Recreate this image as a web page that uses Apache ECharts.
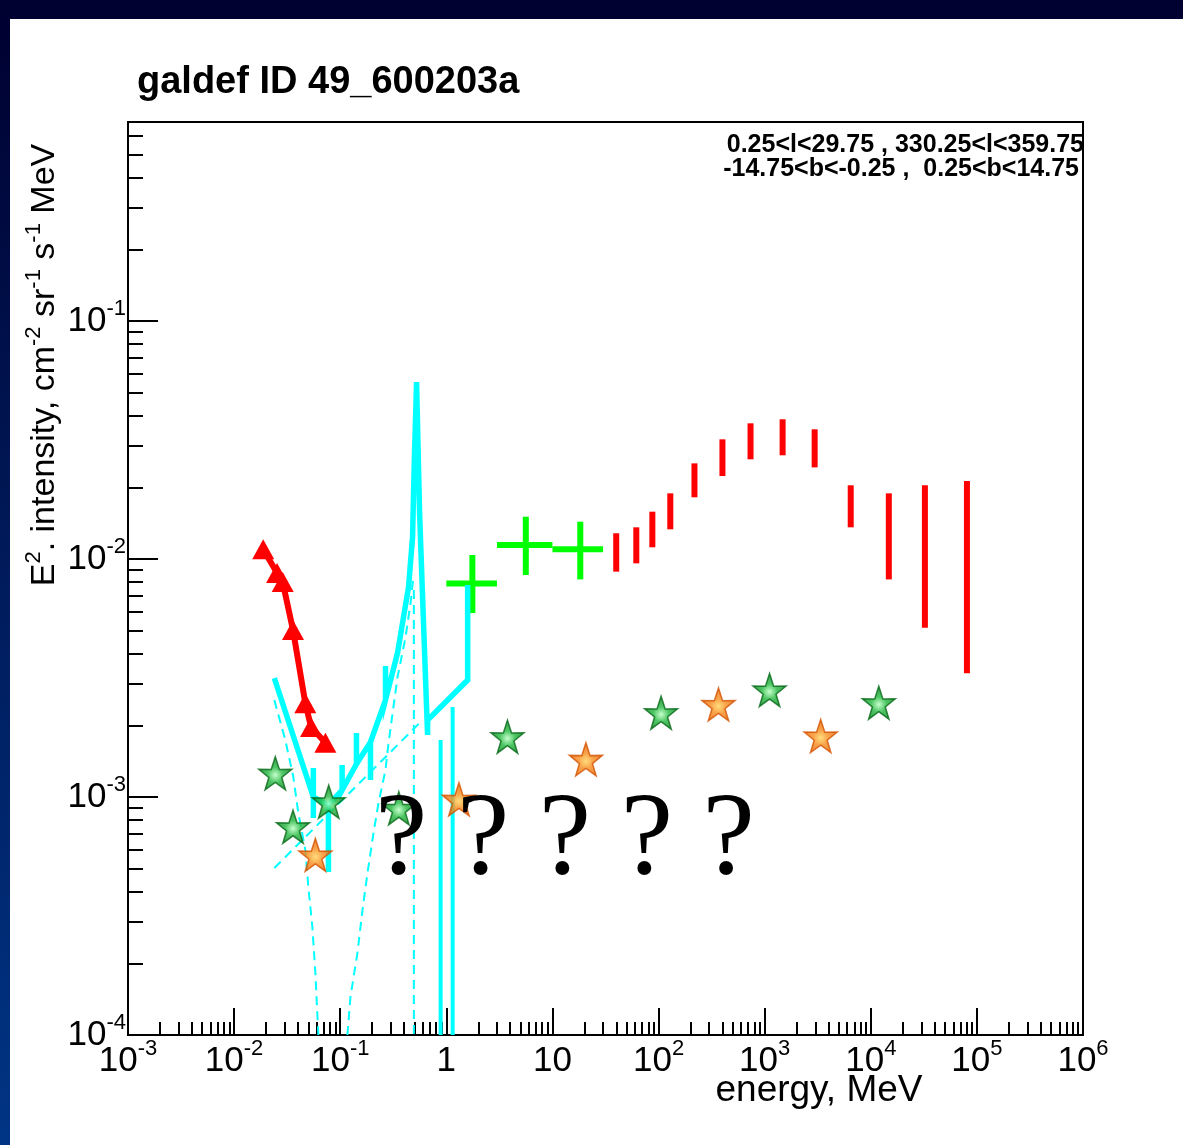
<!DOCTYPE html>
<html>
<head>
<meta charset="utf-8">
<title>galdef ID 49_600203a</title>
<script src="https://cdn.jsdelivr.net/npm/echarts@6/dist/echarts.min.js"></script>
<style>
  html, body { margin: 0; padding: 0; background: #fff; }
  #chart { width: 1183px; height: 1145px; }
</style>
</head>
<body>
<div id="chart"></div>
<script>
// ---------------- data (energy in MeV, E^2 intensity in cm^-2 sr^-1 s^-1 MeV) ----------------

// low-energy measurements (red triangles joined by a line)
const triE = [0.0188, 0.0254, 0.0287, 0.0359, 0.0469, 0.0531, 0.0725];
const triI = [0.0110, 0.00874, 0.0080, 0.00503, 0.00248, 0.00197, 0.00169];

// COMPTEL bins (green crosses: energy bin and intensity range)
const crossE    = [1.76, 5.61, 18.3];
const crossEmin = [1.0, 3.0, 10.0];
const crossEmax = [3.0, 10.0, 30.0];
const crossI    = [0.0079, 0.01145, 0.0110];
const crossIlo  = [0.00593, 0.00857, 0.00821];
const crossIhi  = [0.0104, 0.01506, 0.01435];

// EGRET ranges (red vertical bars)
const egretE  = [39.9, 61.7, 87.4, 129, 218, 400, 736, 1476, 2958, 6471, 14790, 32360, 80590];
const egretLo = [0.00885, 0.00959, 0.0112, 0.01333, 0.01817, 0.02232, 0.02624, 0.02728, 0.02427, 0.01359, 0.00821, 0.00514, 0.00331];
const egretHi = [0.01283, 0.01359, 0.01581, 0.01888, 0.02523, 0.03184, 0.03717, 0.03865, 0.03508, 0.02041, 0.01888, 0.02041, 0.02128];

// model total (solid cyan), with its narrow line features
const totalE = [0.02393, 0.05582, 0.05582, 0.05582, 0.05582, 0.0774, 0.0774, 0.0774, 0.1042, 0.1042, 0.1042,
                0.1422, 0.1422, 0.1422, 0.1929, 0.1929, 0.1929, 0.2672, 0.2672, 0.2672, 0.3468, 0.4406,
                0.4806, 0.4966, 0.5242, 0.5596, 0.5973, 0.6375, 0.6659, 0.6659, 1.589, 1.589];
const totalI = [0.003162, 0.001, 0.001323, 0.000816, 0.001, 0.000926, 0.000484, 0.000926, 0.00107, 0.001363, 0.00107,
                0.001376, 0.001857, 0.001376, 0.001702, 0.001179, 0.001702, 0.002556, 0.003551, 0.002556, 0.004027, 0.007627,
                0.01237, 0.02365, 0.05541, 0.01561, 0.006923, 0.003101, 0.001822, 0.002106, 0.003101, 0.00777];

// solid cyan drops towards zero
const dropE   = [0.8835, 1.147];
const dropTop = [0.001736, 0.00239];
const dropBottom = [0.0001, 0.0001];

// model components (dashed cyan)
const compAE = [0.02393, 0.03038, 0.03614, 0.04029, 0.04692, 0.05008, 0.05464, 0.05832, 0.06225];
const compAI = [0.002556, 0.001736, 0.001213, 0.000857, 0.000599, 0.000419, 0.000284, 0.000182, 0.0001];
const compBE = [0.02393, 0.1248, 0.5973];
const compBI = [0.000503, 0.00105, 0.002106];
const compCE = [0.4943, 0.4943];
const compCI = [0.00741, 0.0001];
const compDE = [0.1169, 0.1248, 0.1453, 0.1621, 0.1807, 0.2058, 0.2295, 0.2672, 0.2852, 0.3468, 0.4128, 0.4602, 0.4912];
const compDI = [0.0001, 0.0001444, 0.000221, 0.000335, 0.000479, 0.000706, 0.000944, 0.001299, 0.001686, 0.003193, 0.0047, 0.006533, 0.00857];

// star markers
const greenStarE  = [0.02444, 0.0359, 0.0779, 0.3568, 3.767, 105.6, 1112, 11900];
const greenStarI  = [0.001258, 0.00075, 0.000955, 0.000897, 0.001792, 0.002261, 0.002816, 0.00249];
const orangeStarE = [0.05832, 1.315, 20.67, 367, 3372];
const orangeStarI = [0.000571, 0.000978, 0.00144, 0.00245, 0.001804];

// axis ticks and labels
const xMajor = [1e-3, 1e-2, 1e-1, 1, 10, 100, 1e3, 1e4, 1e5, 1e6];
const xTickLabels = ['10^{-3}', '10^{-2}', '10^{-1}', '1', '10', '10^{2}', '10^{3}', '10^{4}', '10^{5}', '10^{6}'];
const yMajor = [1e-4, 1e-3, 1e-2, 1e-1];
const yTickLabels = ['10^{-4}', '10^{-3}', '10^{-2}', '10^{-1}'];

// ---------------- helpers ----------------
const SANS = "'Liberation Sans', Arial, Helvetica, sans-serif";

function minorTicks(lo, hi) {
  const out = [];
  for (let d = lo; d <= hi; d *= 10) {
    for (let k = 2; k <= 9; k++) {
      const v = k * d;
      if (v < hi * 10) out.push(v);
    }
  }
  return out;
}
const xMinor = minorTicks(1e-3, 1e5);
const yMinor = minorTicks(1e-4, 1e-1).filter(v => v < 0.686);

function toRich(label) {
  const m = /^(.*)\^\{(.*)\}$/.exec(label);
  return m ? '{n|' + m[1] + '}{s|' + m[2] + '}' : '{n|' + label + '}';
}
function labelFor(values, labels) {
  return function (val) {
    const i = values.findIndex(v => Math.abs(v - val) <= v * 1e-6);
    return i < 0 ? '' : toRich(labels[i]);
  };
}
const tickRich = {
  n: { fontFamily: SANS, fontSize: 35, lineHeight: 47, color: '#000' },
  s: { fontFamily: SANS, fontSize: 22, lineHeight: 22, verticalAlign: 'top', color: '#000' }
};

function pairs(xs, ys) { return xs.map((x, i) => [x, ys[i]]); }

const STAR = 'path://M50,0 L61.8,35.1 L97.6,34.5 L68.7,56.9 L79.4,90.5 L50,70 L20.6,90.5 L31.3,56.9 L2.4,34.5 L38.2,35.1 Z';
function starGradient(inner, mid, outer) {
  return { type: 'radial', x: 0.5, y: 0.55, r: 0.55,
           colorStops: [{ offset: 0, color: inner }, { offset: 0.4, color: mid }, { offset: 1, color: outer }] };
}

// ---------------- chart ----------------
const chart = echarts.init(document.getElementById('chart'), null, { renderer: 'canvas' });

const axisBase = { type: 'log', logBase: 10, splitLine: { show: false }, minorTick: { show: false } };

const series = [];

// EGRET bars
series.push({
  type: 'custom', name: 'EGRET', z: 2,
  data: egretE.map((e, i) => [e, egretLo[i], egretHi[i]]),
  encode: { x: 0, y: [1, 2] },
  renderItem(params, api) {
    const a = api.coord([api.value(0), api.value(1)]);
    const b = api.coord([api.value(0), api.value(2)]);
    return { type: 'line', shape: { x1: a[0], y1: a[1], x2: b[0], y2: b[1] },
             style: { stroke: '#ff0000', lineWidth: 6 } };
  }
});

// COMPTEL crosses
series.push({
  type: 'custom', name: 'COMPTEL', z: 2,
  data: crossE.map((e, i) => [e, crossEmin[i], crossEmax[i], crossI[i], crossIlo[i], crossIhi[i]]),
  encode: { x: [0, 1, 2], y: [3, 4, 5] },
  renderItem(params, api) {
    const h1 = api.coord([api.value(1), api.value(3)]);
    const h2 = api.coord([api.value(2), api.value(3)]);
    const v1 = api.coord([api.value(0), api.value(4)]);
    const v2 = api.coord([api.value(0), api.value(5)]);
    const st = { stroke: '#00ff00', lineWidth: 6 };
    return { type: 'group', children: [
      { type: 'line', shape: { x1: h1[0], y1: h1[1], x2: h2[0], y2: h2[1] }, style: st },
      { type: 'line', shape: { x1: v1[0], y1: v1[1], x2: v2[0], y2: v2[1] }, style: st }
    ] };
  }
});

// dashed model components
[[compAE, compAI], [compBE, compBI], [compCE, compCI], [compDE, compDI]].forEach(([xs, ys], k) => {
  series.push({
    type: 'line', name: 'component ' + (k + 1), z: 3, showSymbol: false, symbol: 'none',
    data: pairs(xs, ys),
    lineStyle: { color: '#00ffff', width: 2, type: [9, 6] }
  });
});

// solid model total
series.push({
  type: 'line', name: 'total', z: 4, showSymbol: false, symbol: 'none',
  data: pairs(totalE, totalI),
  lineStyle: { color: '#00ffff', width: 5.5, join: 'miter' }
});
dropE.forEach((e, i) => {
  series.push({
    type: 'line', name: 'total drop ' + (i + 1), z: 4, showSymbol: false, symbol: 'none',
    data: [[e, dropTop[i]], [e, dropBottom[i]]],
    lineStyle: { color: '#00ffff', width: 4 }
  });
});

// low-energy triangles
series.push({
  type: 'line', name: 'low energy', z: 5,
  data: pairs(triE, triI),
  symbol: 'triangle', symbolSize: [22, 20], showSymbol: true,
  itemStyle: { color: '#ff0000' },
  lineStyle: { color: '#ff0000', width: 6 }
});

// stars
series.push({
  type: 'scatter', name: 'green stars', z: 6,
  data: pairs(greenStarE, greenStarI),
  symbol: STAR, symbolSize: 33,
  itemStyle: { color: starGradient('#b8ffc0', '#22b83e', '#0a7d20'), borderColor: '#066a18', borderWidth: 1.5 }
});
series.push({
  type: 'scatter', name: 'orange stars', z: 6,
  data: pairs(orangeStarE, orangeStarI),
  symbol: STAR, symbolSize: 33,
  itemStyle: { color: starGradient('#ffd35c', '#f78c1c', '#e2620a'), borderColor: '#d45200', borderWidth: 1.5 }
});

const option = {
  animation: false,
  backgroundColor: 'transparent',
  title: {
    text: 'galdef ID 49_600203a',
    left: 137, top: 64, padding: 0,
    textStyle: { fontFamily: SANS, fontWeight: 'bold', fontSize: 38, color: '#000' }
  },
  grid: {
    left: 128, top: 122, width: 955, height: 913,
    show: true, borderColor: '#000', borderWidth: 2, backgroundColor: 'transparent',
    outerBoundsMode: 'none'
  },
  xAxis: [
    Object.assign({}, axisBase, {
      min: 1e-3, max: 1e6, position: 'bottom',
      axisLine: { show: true, lineStyle: { color: '#000', width: 2 } },
      axisTick: { show: true, inside: true, length: 27, customValues: xMajor, lineStyle: { color: '#000', width: 2 } },
      axisLabel: { show: true, customValues: xMajor, margin: 3, showMinLabel: true, showMaxLabel: true,
                   formatter: labelFor(xMajor, xTickLabels), rich: tickRich }
    }),
    Object.assign({}, axisBase, {
      min: 1e-3, max: 1e6, position: 'bottom',
      axisLine: { show: false },
      axisTick: { show: true, inside: true, length: 13, customValues: xMinor, lineStyle: { color: '#000', width: 2 } },
      axisLabel: { show: false }
    })
  ],
  yAxis: [
    Object.assign({}, axisBase, {
      min: 1e-4, max: 0.686, position: 'left',
      axisLine: { show: true, lineStyle: { color: '#000', width: 2 } },
      axisTick: { show: true, inside: true, length: 30, customValues: yMajor, lineStyle: { color: '#000', width: 2 } },
      axisLabel: { show: true, customValues: yMajor, margin: 2, showMinLabel: true, showMaxLabel: true,
                   formatter: labelFor(yMajor, yTickLabels), rich: tickRich }
    }),
    Object.assign({}, axisBase, {
      min: 1e-4, max: 0.686, position: 'left',
      axisLine: { show: false },
      axisTick: { show: true, inside: true, length: 15, customValues: yMinor, lineStyle: { color: '#000', width: 2 } },
      axisLabel: { show: false }
    })
  ],
  graphic: [
    // slide frame
    { type: 'rect', z: -100, silent: true, shape: { x: 0, y: 0, width: 1183, height: 1145 },
      style: { fill: { type: 'linear', x: 0, y: 0, x2: 0, y2: 1,
        colorStops: [{ offset: 0, color: '#000030' }, { offset: 1, color: '#003585' }] } } },
    { type: 'rect', z: -99, silent: true, shape: { x: 10, y: 19, width: 1173, height: 1126 },
      style: { fill: '#ffffff' } },
    // region selection
    { type: 'text', z: 50, x: 1084, y: 145, style: { text: '0.25<l<29.75 , 330.25<l<359.75', align: 'right', verticalAlign: 'middle',
      font: "bold 25px 'Liberation Sans', Arial, sans-serif", fill: '#000' } },
    { type: 'text', z: 50, x: 1079, y: 169, style: { text: '-14.75<b<-0.25 ,  0.25<b<14.75', align: 'right', verticalAlign: 'middle',
      font: "bold 25px 'Liberation Sans', Arial, sans-serif", fill: '#000' } },
    // axis titles
    { type: 'text', z: 50, x: 819, y: 1091, style: { text: 'energy, MeV', align: 'center', verticalAlign: 'middle',
      font: "37px 'Liberation Sans', Arial, sans-serif", fill: '#000' } },
    { type: 'text', z: 50, x: 45, y: 365, rotation: Math.PI / 2,
      style: { text: '{m|E}{s|2}{m|. intensity, cm}{s|-2}{m| sr}{s|-1}{m| s}{s|-1}{m| MeV}',
               align: 'center', verticalAlign: 'middle',
               rich: { m: { fontFamily: SANS, fontSize: 34, lineHeight: 44, fill: '#000' },
                       s: { fontFamily: SANS, fontSize: 22, lineHeight: 22, verticalAlign: 'top', fill: '#000' } } } },
    // open questions
    { type: 'text', z: 100, x: 565, y: 842, style: { text: '? ? ? ? ?', align: 'center', verticalAlign: 'middle',
      font: "118px 'Liberation Serif', 'Times New Roman', serif", fill: '#000' } }
  ],
  series: series
};

chart.setOption(option);
</script>
</body>
</html>
